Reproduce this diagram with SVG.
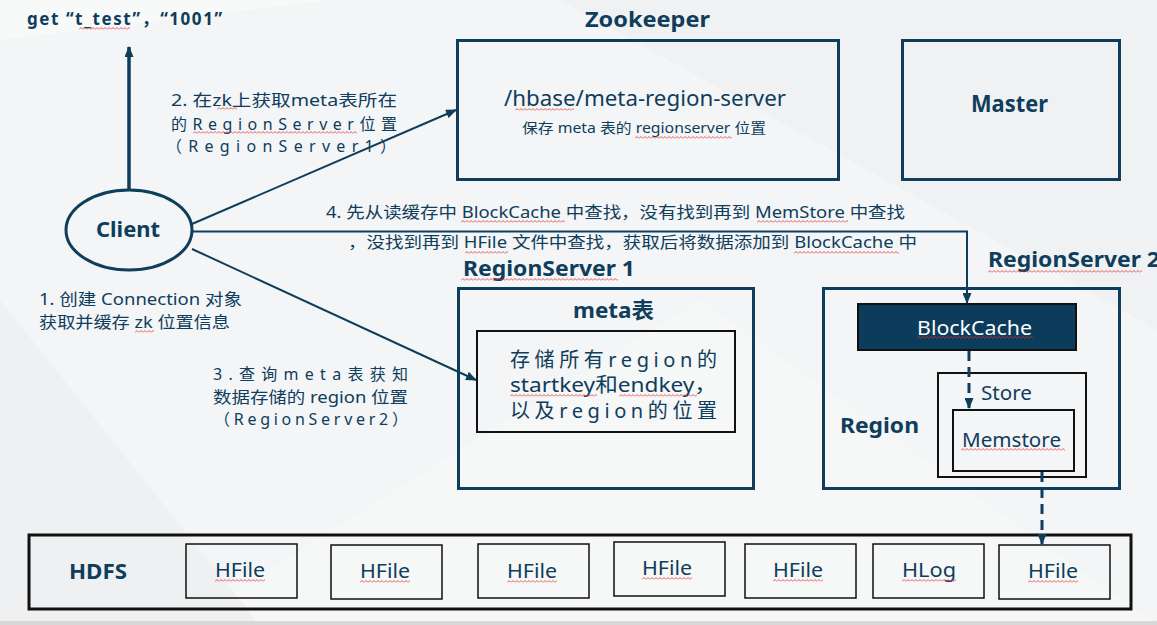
<svg xmlns="http://www.w3.org/2000/svg" width="1157" height="625" viewBox="0 0 1157 625">
<defs>
<style>
text{font-family:"Noto Sans","Noto Sans CJK SC",sans-serif;fill:#0f3d5c}
.b{font-weight:bold}
.nv{fill:none;stroke:#0f3d5c;stroke-width:3}
.bk{fill:none;stroke:#111;stroke-width:2}
.hf{fill:none;stroke:#111;stroke-width:1.5}
.ln{fill:none;stroke:#0f3d5c;stroke-width:2}
.ds{fill:none;stroke:#0f3d5c;stroke-width:3;stroke-dasharray:10 6}
.hl{font-size:20px}
</style>
<marker id="ah" markerUnits="userSpaceOnUse" markerWidth="11" markerHeight="9" refX="10" refY="4.5" orient="auto">
<path d="M0,0 L11,4.5 L0,9 z" fill="#0f3d5c"/>
</marker>
<pattern id="sq" patternUnits="userSpaceOnUse" width="4" height="3">
<path d="M0,2.5 L2,0.5 L4,2.5" fill="none" stroke="#e03030" stroke-width="0.8"/>
</pattern>
</defs>
<rect width="1157" height="625" fill="#f4f5f6"/>
<polygon points="0,40 330,0 0,0" fill="#f8f9f9"/>
<polygon points="560,0 1157,330 1157,0" fill="#f0f1f2"/>
<polygon points="180,625 700,300 1157,625" fill="#f6f7f7"/>
<polygon points="0,300 260,625 0,625" fill="#eff0f1"/>
<rect x="0" y="621" width="1157" height="4" fill="#d8d8d8"/>

<g id="get-label"><text x="27" y="25" class="b" font-size="17" textLength="195" lengthAdjust="spacing">get “t_test”，“1001”</text></g>

<g id="client"><ellipse cx="129" cy="230" rx="63" ry="40" class="nv"/><text x="96" y="237" class="b" font-size="22" textLength="64" lengthAdjust="spacingAndGlyphs">Client</text></g>

<g id="zookeeper">
<text x="585" y="27" class="b" font-size="22" textLength="125" lengthAdjust="spacingAndGlyphs">Zookeeper</text>
<rect x="457.5" y="40.5" width="381" height="139" class="nv"/>
<text x="504" y="106" font-size="21" textLength="282" lengthAdjust="spacingAndGlyphs">/hbase/meta-region-server</text>
<text x="522" y="133" font-size="14" textLength="244" lengthAdjust="spacingAndGlyphs">保存 meta 表的 regionserver 位置</text>
</g>

<g id="master"><rect x="902.5" y="40.5" width="217" height="139" class="nv"/><text x="971" y="112" class="b" font-size="23" textLength="77" lengthAdjust="spacingAndGlyphs">Master</text></g>

<g id="regionserver1">
<text x="463" y="276" class="b" font-size="21" textLength="172" lengthAdjust="spacingAndGlyphs">RegionServer 1</text>
<rect x="458.5" y="288.5" width="295" height="200" class="nv"/>
<text x="573" y="318" class="b" font-size="22" textLength="81" lengthAdjust="spacingAndGlyphs">meta表</text>
<rect x="477" y="331" width="258" height="101" class="bk"/>
<text x="510" y="367" font-size="20" textLength="207" lengthAdjust="spacing">存储所有region的</text>
<text x="510" y="392" font-size="20" textLength="207" lengthAdjust="spacingAndGlyphs">startkey和endkey，</text>
<text x="510" y="418" font-size="20" textLength="207" lengthAdjust="spacing">以及region的位置</text>
</g>

<g id="regionserver2">
<text x="988" y="267" class="b" font-size="21" textLength="172" lengthAdjust="spacingAndGlyphs">RegionServer 2</text>
<rect x="823.5" y="288.5" width="296" height="200" class="nv"/>
<rect x="858" y="304" width="218" height="46" fill="#0c3c5b" stroke="#111" stroke-width="2"/>
<text x="917" y="335" font-size="20" style="fill:#fff" textLength="115" lengthAdjust="spacingAndGlyphs">BlockCache</text>
<text x="840" y="433" class="b" font-size="22" textLength="79" lengthAdjust="spacingAndGlyphs">Region</text>
<rect x="938" y="373" width="148" height="104" class="bk"/>
<text x="981" y="400" font-size="20" textLength="51" lengthAdjust="spacingAndGlyphs">Store</text>
<rect x="953" y="410" width="121" height="61" class="bk"/>
<text x="962" y="447" font-size="20" textLength="99" lengthAdjust="spacingAndGlyphs">Memstore</text>
</g>

<g id="hdfs">
<rect x="29" y="535" width="1102" height="74" fill="none" stroke="#111" stroke-width="3"/>
<text x="69" y="579" class="b" font-size="22" textLength="58" lengthAdjust="spacingAndGlyphs">HDFS</text>
<rect x="186" y="544" width="111" height="54" class="hf"/>
<rect x="331" y="545" width="111" height="54" class="hf"/>
<rect x="478" y="544" width="111" height="54" class="hf"/>
<rect x="614" y="542" width="111" height="54" class="hf"/>
<rect x="745" y="544" width="111" height="54" class="hf"/>
<rect x="873" y="544" width="111" height="54" class="hf"/>
<rect x="999" y="545" width="111" height="54" class="hf"/>
<g class="hl" text-anchor="middle">
<text x="240" y="577" textLength="50" lengthAdjust="spacingAndGlyphs">HFile</text>
<text x="385" y="578" textLength="50" lengthAdjust="spacingAndGlyphs">HFile</text>
<text x="532" y="578" textLength="50" lengthAdjust="spacingAndGlyphs">HFile</text>
<text x="667" y="575" textLength="50" lengthAdjust="spacingAndGlyphs">HFile</text>
<text x="798" y="577" textLength="50" lengthAdjust="spacingAndGlyphs">HFile</text>
<text x="929" y="577" textLength="54" lengthAdjust="spacingAndGlyphs">HLog</text>
<text x="1053" y="578" textLength="50" lengthAdjust="spacingAndGlyphs">HFile</text>
</g>
</g>

<g id="connectors">
<line x1="129" y1="189" x2="129" y2="47" stroke="#0f3d5c" stroke-width="3.5" marker-end="url(#ah)"/>
<line x1="192" y1="224" x2="456" y2="110" class="ln" marker-end="url(#ah)"/>
<line x1="192" y1="249" x2="476" y2="380" class="ln" marker-end="url(#ah)"/>
<polyline points="192,231.5 967,231.5 967,303" class="ln" marker-end="url(#ah)"/>
<line x1="969" y1="351" x2="969" y2="408" class="ds" marker-end="url(#ah)"/>
<line x1="1042" y1="472" x2="1042" y2="544" class="ds" marker-end="url(#ah)"/>
</g>

<g id="labels" font-size="16">
<text x="171" y="106" textLength="226" lengthAdjust="spacingAndGlyphs">2. 在zk上获取meta表所在</text>
<text x="171" y="130" textLength="226" lengthAdjust="spacing">的RegionServer位置</text>
<text x="166" y="152" textLength="230" lengthAdjust="spacing">（RegionServer1）</text>
<text x="39" y="305" textLength="203" lengthAdjust="spacingAndGlyphs">1. 创建 Connection 对象</text>
<text x="39" y="328" textLength="191" lengthAdjust="spacingAndGlyphs">获取并缓存 zk 位置信息</text>
<text x="213" y="380" textLength="195" lengthAdjust="spacing">3.查询meta表获知</text>
<text x="213" y="403" textLength="195" lengthAdjust="spacingAndGlyphs">数据存储的 region 位置</text>
<text x="214" y="425" textLength="194" lengthAdjust="spacing">（RegionServer2）</text>
<text x="326" y="218" textLength="579" lengthAdjust="spacingAndGlyphs">4. 先从读缓存中 BlockCache 中查找，没有找到再到 MemStore 中查找</text>
<text x="348" y="248" textLength="569" lengthAdjust="spacingAndGlyphs">，没找到再到 HFile 文件中查找，获取后将数据添加到 BlockCache 中</text>
</g>

<g id="spellmarks" fill="url(#sq)">
<rect transform="translate(79,27)" width="51" height="3"/>
<rect transform="translate(515,108)" width="59" height="3"/>
<rect transform="translate(635,136)" width="97" height="3"/>
<rect transform="translate(217,107)" width="20" height="3"/>
<rect transform="translate(193,131)" width="164" height="3"/>
<rect transform="translate(135,330)" width="19" height="3"/>
<rect transform="translate(461,220)" width="104" height="3"/>
<rect transform="translate(757,220)" width="91" height="3"/>
<rect transform="translate(465,251)" width="43" height="3"/>
<rect transform="translate(794,251)" width="105" height="3"/>
<rect transform="translate(461,278)" width="157" height="3"/>
<rect transform="translate(988,270)" width="154" height="3"/>
<rect transform="translate(510,394)" width="87" height="3"/>
<rect transform="translate(619,394)" width="78" height="3"/>
<rect transform="translate(917,336)" width="116" height="3"/>
<rect transform="translate(961,448)" width="104" height="3"/>
<rect transform="translate(215,579)" width="50" height="3"/>
<rect transform="translate(360,580)" width="50" height="3"/>
<rect transform="translate(507,580)" width="50" height="3"/>
<rect transform="translate(642,577)" width="50" height="3"/>
<rect transform="translate(773,579)" width="50" height="3"/>
<rect transform="translate(902,579)" width="54" height="3"/>
<rect transform="translate(1028,580)" width="50" height="3"/>
</g>
</svg>
